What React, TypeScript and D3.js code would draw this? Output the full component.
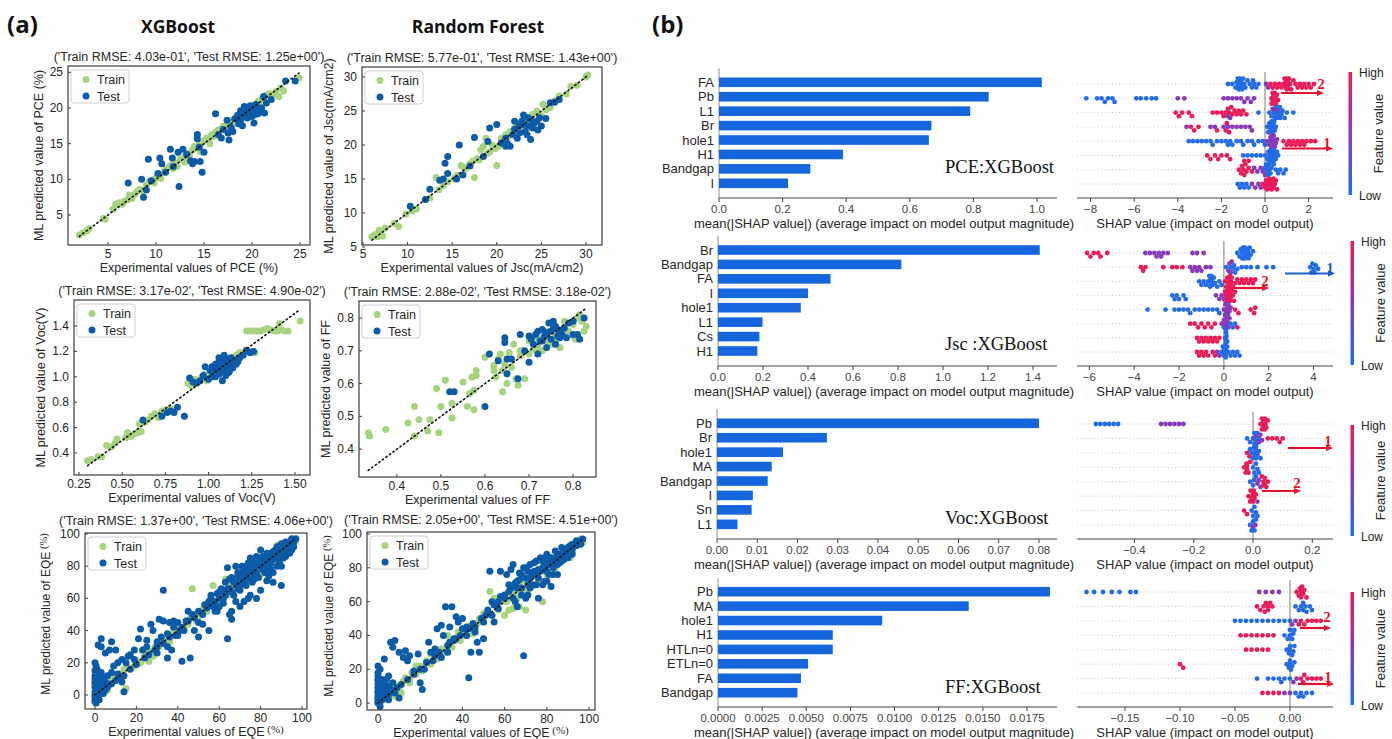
import React from "react";
import * as d3 from "d3";

const SANS = "'Liberation Sans', Arial, Helvetica, sans-serif";
const SERIF = "'Liberation Serif', 'Times New Roman', serif";
const HEAD = "'Open Sans', 'Liberation Sans', Arial, sans-serif";
const TEXT = "#262626";
const TRAIN_COLOR = "#a6d37e";
const TEST_COLOR = "#0c5ba9";
const BAR_COLOR = "#1565dc";

type Pt = [number, number];

// ---------- (a) parity data: [experimental, predicted] ----------
const pceTrain: Pt[] = [
  [2.0, 2.2], [2.4, 2.5], [2.8, 2.8], [3.0, 3.1], [4.5, 4.5], [4.7, 4.4], [5.5, 5.8], [5.8, 6.5], [6.0, 6.6], [6.2, 6.7],
  [6.5, 6.5], [6.7, 6.9], [7.0, 7.1], [7.2, 7.8], [7.5, 7.3], [7.8, 7.9], [8.0, 8.3], [8.3, 8.6], [8.6, 8.4], [9.0, 9.2],
  [9.3, 9.7], [9.6, 9.9], [10.0, 10.2], [10.3, 10.5], [10.5, 10.1], [10.8, 11.0], [11.0, 11.4], [11.3, 11.7], [11.6, 12.0], [12.0, 12.3],
  [12.5, 12.8], [13.0, 13.2], [13.3, 13.6], [13.5, 13.4], [13.8, 14.1], [14.0, 14.6], [14.2, 14.4], [14.5, 14.9], [14.8, 15.1], [15.0, 15.4],
  [15.3, 15.8], [15.5, 15.5], [15.8, 16.3], [16.0, 16.0], [16.2, 16.6], [16.5, 16.9], [16.8, 17.1], [17.0, 17.4], [17.3, 17.5], [17.6, 17.9],
  [17.9, 18.2], [18.2, 18.4], [18.5, 18.9], [18.8, 19.1], [19.1, 19.4], [19.4, 19.7], [19.7, 20.0], [20.0, 20.3], [20.3, 20.5], [20.6, 20.9],
  [20.9, 21.1], [21.2, 21.4], [21.5, 21.8], [21.8, 22.0], [22.2, 21.9], [22.5, 22.3], [22.8, 21.6], [23.3, 22.4], [23.0, 22.8], [24.9, 24.2],
  [12.2, 11.8], [14.6, 13.9], [16.3, 16.1], [18.0, 17.6], [19.2, 19.0], [20.8, 20.3], [15.6, 15.0], [13.0, 12.4], [9.8, 9.5], [11.8, 11.5],
];
const pceTest: Pt[] = [
  [7.1, 9.5], [8.5, 10.0], [9.2, 12.8], [8.7, 7.5], [9.0, 8.5], [9.5, 9.8], [10.4, 13.0], [10.6, 12.2], [10.2, 10.8], [11.0, 11.0],
  [11.5, 14.2], [11.7, 13.0], [11.8, 11.8], [12.4, 9.0], [12.3, 13.8], [12.8, 14.2], [13.2, 13.5], [13.6, 12.6], [13.8, 12.2], [14.0, 12.5],
  [14.3, 15.7], [14.3, 16.3], [14.5, 14.5], [14.6, 12.5], [14.8, 11.0], [15.0, 13.8], [16.2, 19.2], [16.5, 16.3], [16.8, 15.8], [17.0, 17.0],
  [17.4, 18.3], [17.5, 16.5], [17.6, 15.5], [17.8, 17.3], [18.0, 16.7], [18.2, 18.5], [18.5, 19.0], [18.8, 19.6], [18.8, 18.2], [19.0, 18.8],
  [19.2, 20.2], [19.4, 19.5], [19.5, 18.6], [19.6, 19.0], [19.8, 20.3], [19.9, 19.3], [20.0, 18.8], [20.1, 19.8], [20.2, 17.9], [20.3, 19.1],
  [20.4, 20.5], [20.6, 19.2], [20.8, 19.4], [21.0, 20.0], [21.2, 21.6], [21.3, 19.3], [21.5, 20.7], [20.6, 20.0], [18.6, 17.8], [19.0, 17.5],
  [23.5, 23.8], [24.5, 23.8], [22.0, 21.2],
];

const jscTrain: Pt[] = [
  [6.0, 6.5], [6.3, 6.8], [6.6, 6.5], [6.8, 7.5], [7.0, 7.0], [7.2, 6.6], [7.5, 7.8], [8.5, 8.5], [9.0, 8.0], [9.8, 9.8],
  [10.5, 10.3], [11.0, 10.6], [12.0, 12.0], [12.5, 12.2], [13.2, 15.2], [13.5, 13.4], [14.0, 14.0], [14.5, 14.6], [15.2, 15.0], [15.5, 15.5],
  [16.0, 17.0], [16.5, 16.5], [17.0, 17.2], [17.5, 15.2], [17.8, 18.0], [18.2, 19.3], [18.5, 19.8], [18.8, 21.0], [19.0, 18.8], [19.5, 20.0],
  [19.8, 19.5], [20.0, 17.0], [20.2, 19.8], [20.5, 21.0], [21.0, 21.5], [21.5, 22.0], [22.0, 22.5], [22.5, 23.0], [23.0, 23.5], [23.5, 24.0],
  [24.0, 24.5], [24.5, 25.0], [25.0, 24.3], [25.5, 25.2], [26.0, 25.5], [25.2, 26.0], [26.5, 26.5], [27.0, 27.2], [27.8, 27.5], [28.3, 28.6],
  [29.0, 28.8], [30.0, 30.0], [30.2, 30.3], [24.2, 23.5], [23.2, 22.6], [22.2, 21.8], [21.2, 21.0], [20.8, 20.5], [19.2, 19.0], [17.3, 17.6],
  [16.2, 16.8], [18.0, 17.8],
];
const jscTest: Pt[] = [
  [10.3, 11.0], [12.0, 12.0], [12.5, 13.5], [13.6, 14.8], [14.0, 15.0], [14.5, 15.8], [14.2, 17.3], [14.5, 18.3], [15.5, 15.0], [15.8, 20.0],
  [16.2, 15.6], [17.0, 16.9], [17.5, 21.1], [18.5, 18.3], [19.0, 20.5], [19.2, 22.5], [20.0, 23.0], [20.5, 20.3], [21.0, 19.8], [21.2, 20.2],
  [21.5, 19.8], [21.0, 21.0], [21.8, 21.5], [22.0, 22.3], [22.3, 21.0], [22.5, 22.8], [22.8, 23.5], [23.0, 24.4], [23.2, 22.0], [23.4, 21.5],
  [23.6, 22.8], [23.8, 23.8], [24.0, 22.5], [24.2, 23.2], [24.5, 23.5], [24.6, 22.2], [24.8, 24.0], [25.0, 22.8], [23.0, 23.0], [22.6, 21.8],
  [23.5, 24.0], [25.5, 23.9], [26.0, 26.2], [26.5, 26.3], [27.0, 26.7], [23.8, 20.8], [22.0, 23.5],
];

const vocTrain: Pt[] = [
  [0.30, 0.34], [0.32, 0.35], [0.36, 0.37], [0.38, 0.37], [0.41, 0.46], [0.44, 0.45], [0.46, 0.48], [0.47, 0.51], [0.52, 0.52], [0.53, 0.56],
  [0.55, 0.53], [0.57, 0.55], [0.59, 0.56], [0.60, 0.63], [0.61, 0.57], [0.63, 0.64], [0.65, 0.66], [0.67, 0.69], [0.69, 0.71], [0.71, 0.68],
  [0.73, 0.73], [0.75, 0.74], [0.78, 0.75], [0.88, 0.95], [0.90, 0.93], [0.92, 0.98], [0.94, 0.96], [0.96, 1.00], [0.98, 1.02], [1.00, 1.03],
  [1.02, 1.01], [1.04, 1.06], [1.06, 1.08], [1.08, 1.10], [1.10, 1.12], [1.12, 1.13], [1.14, 1.15], [1.16, 1.17], [1.18, 1.19], [1.20, 1.19],
  [1.22, 1.21], [1.25, 1.20], [1.27, 1.19], [1.22, 1.36], [1.24, 1.36], [1.26, 1.36], [1.28, 1.36], [1.30, 1.36], [1.32, 1.37], [1.34, 1.38],
  [1.36, 1.37], [1.38, 1.36], [1.40, 1.36], [1.42, 1.37], [1.44, 1.36], [1.46, 1.36], [1.41, 1.42], [1.53, 1.44], [1.05, 1.02], [1.12, 1.08],
  [0.99, 0.97], [1.15, 1.12],
];
const vocTest: Pt[] = [
  [0.62, 0.66], [0.73, 0.69], [0.76, 0.72], [0.78, 0.73], [0.80, 0.72], [0.82, 0.76], [0.86, 0.69], [0.89, 0.99], [0.91, 0.96], [0.93, 0.95],
  [0.95, 0.97], [0.98, 1.08], [1.00, 0.98], [1.01, 1.05], [1.02, 1.08], [1.03, 1.03], [1.04, 1.10], [1.05, 1.06], [1.06, 1.15], [1.06, 1.02],
  [1.07, 1.04], [1.08, 1.09], [1.08, 0.97], [1.09, 1.12], [1.10, 1.06], [1.10, 1.01], [1.11, 1.14], [1.12, 1.09], [1.12, 1.04], [1.13, 1.11],
  [1.14, 1.07], [1.15, 1.13], [1.16, 1.10], [1.17, 1.12], [1.18, 1.15], [1.20, 1.17], [1.22, 1.21], [1.24, 1.19], [1.26, 1.20], [1.06, 1.12],
  [1.04, 1.00], [1.09, 1.17], [1.13, 1.15], [1.07, 1.08], [1.11, 1.03], [1.02, 1.00], [0.97, 1.01],
];

const ffTrain: Pt[] = [
  [0.335, 0.45], [0.338, 0.44], [0.375, 0.46], [0.425, 0.48], [0.44, 0.53], [0.44, 0.44], [0.45, 0.49], [0.47, 0.455], [0.475, 0.49], [0.49, 0.585],
  [0.495, 0.45], [0.50, 0.53], [0.51, 0.61], [0.525, 0.54], [0.525, 0.495], [0.55, 0.605], [0.56, 0.53], [0.565, 0.57], [0.57, 0.62], [0.575, 0.52],
  [0.575, 0.58], [0.58, 0.64], [0.58, 0.625], [0.60, 0.68], [0.62, 0.655], [0.62, 0.64], [0.625, 0.62], [0.63, 0.675], [0.635, 0.69], [0.64, 0.575],
  [0.64, 0.64], [0.65, 0.60], [0.655, 0.695], [0.66, 0.65], [0.665, 0.72], [0.67, 0.615], [0.675, 0.595], [0.68, 0.685], [0.685, 0.70], [0.69, 0.615],
  [0.70, 0.73], [0.71, 0.705], [0.72, 0.74], [0.73, 0.70], [0.74, 0.76], [0.75, 0.72], [0.76, 0.745], [0.77, 0.71], [0.78, 0.79], [0.79, 0.76],
  [0.80, 0.78], [0.81, 0.80], [0.82, 0.79], [0.83, 0.775], [0.825, 0.76], [0.80, 0.745], [0.76, 0.73], [0.72, 0.71], [0.70, 0.69], [0.74, 0.73],
  [0.78, 0.765], [0.815, 0.81], [0.805, 0.735], [0.68, 0.70], [0.645, 0.66],
];
const ffTest: Pt[] = [
  [0.52, 0.575], [0.53, 0.575], [0.60, 0.53], [0.61, 0.69], [0.63, 0.67], [0.645, 0.74], [0.645, 0.725], [0.65, 0.675], [0.65, 0.63], [0.66, 0.675],
  [0.675, 0.615], [0.68, 0.75], [0.69, 0.70], [0.70, 0.745], [0.70, 0.665], [0.71, 0.72], [0.715, 0.75], [0.72, 0.69], [0.72, 0.76], [0.725, 0.73],
  [0.73, 0.765], [0.735, 0.745], [0.74, 0.71], [0.74, 0.755], [0.745, 0.785], [0.75, 0.76], [0.75, 0.735], [0.755, 0.77], [0.76, 0.72], [0.76, 0.775],
  [0.765, 0.745], [0.77, 0.76], [0.775, 0.75], [0.78, 0.77], [0.785, 0.74], [0.79, 0.785], [0.80, 0.75], [0.80, 0.79], [0.81, 0.75], [0.815, 0.735],
  [0.825, 0.80], [0.73, 0.73], [0.755, 0.79], [0.77, 0.74], [0.705, 0.735], [0.765, 0.765],
];

const eqeXgbTrain: Pt[] = [
  [1, 0], [2, 2], [3, 4], [4, 1], [5, 5], [6, 7], [7, 6], [8, 9], [10, 11], [12, 11], [13, 14], [15, 4], [14, 16], [16, 17], [18, 17],
  [20, 21], [22, 20], [24, 25], [26, 21], [27, 27], [29, 30], [31, 30], [33, 34], [35, 34], [37, 38], [39, 38], [41, 41], [43, 42], [45, 44],
  [46, 48], [47, 66], [48, 50], [50, 49], [52, 53], [54, 52], [56, 58], [57, 68], [58, 57], [60, 61], [61, 59], [62, 63], [63, 72], [64, 62],
  [65, 66], [66, 64], [67, 68], [68, 66], [70, 71], [72, 70], [74, 75], [75, 73], [77, 78], [79, 77], [81, 82], [83, 81], [85, 86], [87, 85],
  [89, 90], [91, 89], [93, 94], [95, 93], [97, 96], [91, 90], [85, 80], [88, 93], [80, 75], [76, 79], [71, 74], [66, 69], [59, 56], [53, 55],
  [44, 45], [34, 33], [25, 27], [19, 18], [11, 10], [9, 12], [3, 8], [6, 3], [28, 24], [36, 33], [49, 46], [55, 55],
];
const eqeXgbTest: Pt[] = [
  [0, 20], [1.5, 31], [3, 35], [3, 30], [5, 26], [7, 28], [8, 33], [10, 28], [11, 13], [13, 8], [14, 2], [16, 24], [19, 28], [21, 35],
  [22, 41], [23, 28], [25, 34], [27, 44], [28, 40], [30, 33], [31, 47], [33, 46], [33, 65], [35, 23], [36, 45], [37, 28], [38, 46], [40, 45],
  [42, 21], [43, 40], [46, 23], [48, 40], [50, 36], [52, 44], [55, 40], [56, 60], [58, 58], [59, 52], [62, 65], [64, 35], [65, 50], [66, 47],
  [66, 52], [68, 58], [70, 55], [72, 58], [74, 60], [75, 62], [78, 60], [80, 65], [84, 74], [88, 80], [90, 68], [83, 71], [86, 70], [70, 72],
  [68, 80], [64, 79], [71, 80], [76, 83], [80, 90], [82, 86], [85, 88], [88, 92], [90, 94], [92, 95], [95, 97], [94, 88], [96, 92], [93, 90],
  [87, 86], [89, 83], [91, 85], [78, 76], [75, 78], [73, 75], [72, 70], [76, 70], [79, 73], [81, 78], [84, 81], [86, 84], [77, 80], [74, 82],
  [69, 74], [67, 70], [65, 66], [63, 62], [60, 60], [57, 55], [54, 54], [52, 50], [48, 48], [45, 46], [42, 42], [39, 37], [36, 36], [33, 32],
  [30, 30], [26, 25], [24, 23], [20, 19], [17, 16], [14, 12], [12, 10], [10, 9], [8, 7], [6, 5], [5, 3], [4, 6], [3, 2], [2, 4], [1, 1],
  [0, 0], [0, -3], [0.5, -5], [0, 5], [0, 8], [0, 12], [0, 15], [0.5, 10], [1, 13], [1.5, 7], [2, 9], [2.5, 12], [3, 5], [4, 10], [0, 2],
  [1, -2], [0, -1], [2, 0], [6, 12], [8, 14], [9, 18], [11, 20], [13, 22], [15, 20], [17, 25], [19, 22], [25, 30], [29, 28], [32, 36],
  [35, 38], [38, 42], [41, 40], [44, 46], [47, 50], [50, 52], [53, 56], [56, 62], [59, 63], [61, 66], [63, 70], [66, 73], [69, 76], [72, 78],
  [75, 85], [78, 86], [81, 84], [83, 88], [85, 82], [87, 90], [89, 88], [91, 90], [93, 93], [95, 94], [97, 97], [92, 86], [90, 80], [86, 76],
  [82, 76], [80, 80], [77, 74], [73, 68], [70, 65], [67, 62], [62, 57], [60, 55], [50, 45], [45, 52], [40, 37], [35, 30], [30, 26],
  [79, 83], [82, 80], [84, 86], [86, 89], [88, 86], [90, 88], [92, 92], [94, 95], [71, 76], [73, 72], [76, 76], [78, 81],
  [62, 60], [64, 66], [66, 64], [68, 70], [70, 68], [72, 74], [74, 72], [76, 78], [78, 74], [80, 82], [82, 78], [84, 84], [86, 86], [88, 88],
  [90, 90], [92, 93], [94, 92], [96, 95], [65, 72], [69, 66], [73, 80], [77, 72], [81, 86], [85, 78], [89, 92], [93, 88], [95, 90], [60, 64],
  [58, 52], [55, 58], [0, -4], [0, 7], [0, 10], [1, 3], [1, 16], [2, -3], [0.5, 18], [3, 14], [4, 1], [5, 8],
];

const eqeRfTrain: Pt[] = [
  [0, 2], [2, 3], [4, 5], [5, 3], [7, 8], [9, 10], [10, 8], [12, 13], [13, 15], [15, 14], [16, 18], [18, 17], [20, 22], [21, 19], [23, 25],
  [25, 23], [27, 28], [28, 26], [30, 32], [32, 30], [34, 36], [35, 33], [37, 38], [39, 37], [40, 42], [42, 40], [44, 46], [46, 44], [48, 50],
  [50, 48], [52, 54], [54, 52], [56, 58], [57, 55], [59, 61], [60, 52], [61, 60], [62, 55], [63, 63], [64, 56], [65, 66], [66, 62], [67, 70],
  [68, 66], [70, 72], [71, 67], [72, 74], [73, 69], [75, 77], [76, 73], [78, 80], [80, 76], [82, 84], [84, 80], [86, 88], [88, 85], [90, 92],
  [92, 89], [94, 95], [96, 97], [97, 95], [60, 62], [70, 55], [78, 60], [91, 86], [86, 84], [15, 12], [11, 6], [45, 41], [55, 62], [50, 53],
  [38, 42], [25, 29], [8, 4], [3, 6], [1, 0], [18, 22], [30, 28], [47, 47], [33, 40], [53, 66], [67, 57],
];
const eqeRfTest: Pt[] = [
  [0, 22], [0, 18], [0, 14], [1, 12], [2, 10], [3, 26], [5, 16], [6, 36], [7, 33], [8, 37], [10, 3], [10, 30], [12, 27], [13, 31],
  [14, 25], [15, 28], [17, 19], [19, 29], [20, 12], [21, 8], [22, 20], [24, 36], [25, 30], [27, 32], [28, 44], [30, 46], [31, 40], [32, 57],
  [33, 30], [34, 45], [35, 57], [36, 38], [37, 51], [38, 48], [40, 50], [41, 44], [42, 40], [43, 15], [44, 30], [46, 42], [47, 36], [48, 30],
  [50, 38], [51, 52], [53, 78], [54, 60], [55, 48], [57, 60], [58, 78], [60, 62], [61, 76], [63, 79], [64, 82], [65, 60], [66, 57], [67, 77],
  [68, 68], [69, 28], [70, 62], [71, 64], [72, 74], [73, 70], [74, 83], [75, 78], [76, 62], [77, 86], [78, 84], [79, 72], [80, 88], [81, 76],
  [82, 86], [83, 80], [84, 90], [85, 82], [86, 88], [87, 92], [88, 85], [89, 90], [90, 86], [91, 93], [92, 91], [93, 94], [95, 95], [96, 96],
  [75, 84], [72, 82], [70, 80], [68, 76], [66, 72], [63, 68], [60, 64], [58, 63], [55, 58], [52, 55], [49, 50], [45, 47], [42, 45], [39, 40],
  [36, 37], [33, 34], [29, 30], [26, 25], [23, 24], [20, 20], [17, 17], [14, 14], [11, 11], [9, 9], [7, 7], [5, 5], [4, 8], [3, 3],
  [2, 5], [1, 1], [0, 0], [0, 3], [0, 6], [0, 9], [1, -2], [2, 2], [3, 12], [4, 4], [1, 8], [0, 11], [2, 14], [5, 10], [7, 12], [8, 6],
  [69, 80], [76, 79], [79, 82], [81, 82], [84, 85], [86, 83], [88, 89], [90, 92], [92, 88], [94, 93], [97, 97], [78, 70], [80, 72], [85, 76],
  [82, 69], [71, 70], [73, 76], [65, 71], [62, 70], [57, 56], [54, 52], [50, 48], [46, 45], [43, 44], [40, 44], [37, 38], [34, 36], [30, 27],
  [27, 28], [83, 84], [85, 87], [87, 86], [89, 87], [91, 90], [77, 78], [74, 76], [80, 84],
  [62, 66], [64, 62], [66, 68], [68, 64], [70, 74], [72, 68], [74, 78], [76, 74], [78, 80], [80, 78], [82, 82], [84, 86], [86, 86], [88, 90],
  [90, 89], [92, 94], [94, 96], [96, 94], [67, 73], [71, 78], [75, 70], [79, 86], [83, 76], [87, 84], [91, 88], [0, 1], [0, 4], [0, 7],
  [0, 13], [0, 16], [1, 5], [1, 10], [2, 7], [3, 9], [4, 14], [5, 2], [6, 8], [1, 20],
];

const pceRmse = ["4.03e-01", "1.25e+00"];
const jscRmse = ["5.77e-01", "1.43e+00"];
const vocRmse = ["3.17e-02", "4.90e-02"];
const ffRmse = ["2.88e-02", "3.18e-02"];
const eqeXgbRmse = ["1.37e+00", "4.06e+00"];
const eqeRfRmse = ["2.05e+00", "4.51e+00"];

const pceTicks = [5, 10, 15, 20, 25];
const jscTicks = [5, 10, 15, 20, 25, 30];
const vocXTicks = [0.25, 0.5, 0.75, 1.0, 1.25, 1.5];
const vocYTicks = [0.4, 0.6, 0.8, 1.0, 1.2, 1.4];
const ffTicks = [0.4, 0.5, 0.6, 0.7, 0.8];
const eqeTicks = [0, 20, 40, 60, 80, 100];

// ---------- (b) SHAP importance ----------
const pceFeatures = ["FA", "Pb", "L1", "Br", "hole1", "H1", "Bandgap", "I"];
const pceImportance = [1.015, 0.848, 0.79, 0.668, 0.66, 0.39, 0.287, 0.217];
const jscFeatures = ["Br", "Bandgap", "FA", "I", "hole1", "L1", "Cs", "H1"];
const jscImportance = [1.43, 0.815, 0.5, 0.4, 0.368, 0.198, 0.184, 0.175];
const vocFeatures = ["Pb", "Br", "hole1", "MA", "Bandgap", "I", "Sn", "L1"];
const vocImportance = [0.08, 0.0273, 0.0164, 0.0136, 0.0126, 0.0089, 0.0086, 0.0051];
const ffFeatures = ["Pb", "MA", "hole1", "H1", "HTLn=0", "ETLn=0", "FA", "Bandgap"];
const ffImportance = [0.0188, 0.0142, 0.0093, 0.0065, 0.0065, 0.0051, 0.0047, 0.0045];

const pceBarTicks = [0, 0.2, 0.4, 0.6, 0.8, 1.0];
const jscBarTicks = [0, 0.2, 0.4, 0.6, 0.8, 1.0, 1.2, 1.4];
const vocBarTicks = [0, 0.01, 0.02, 0.03, 0.04, 0.05, 0.06, 0.07, 0.08];
const ffBarTicks = [0, 0.0025, 0.005, 0.0075, 0.01, 0.0125, 0.015, 0.0175];

// SHAP values per feature row, split by feature value (low / mid / high)
const pceShapLow = [
  [-1.7, -1.5, -1.35, -1.3, -1.25, -1.2, -1.2, -1.15, -1.1, -1.1, -1.05, -1.0, -0.95, -0.9, -0.8, -0.7, -0.6, -0.55, -0.5, -0.4, -0.3, -1.25, -1.18, -1.12],
  [-8.2, -7.7, -7.5, -7.35, -7.2, -7.0, -6.9, -5.9, -5.7, -5.45, -5.2, -5.0],
  [-0.3, 0.2, 0.3, 0.4, 0.45, 0.5, 0.55, 0.6, 0.6, 0.65, 0.7, 0.75, 0.8, 0.9, 1.0, 1.3, 0.5, 0.55, 0.62, 0.68],
  [0.1, 0.15, 0.2, 0.25, 0.3, 0.3, 0.35, 0.35, 0.4, 0.45, 0.5, 0.25, 0.32, 0.38, 0.28, 0.42],
  [-3.5, -3.3, -3.1, -2.9, -2.7, -2.5, -2.4, -2.2, -2.0, -1.8, -1.7, -1.6, -1.5, -1.3, -1.1, -1.0, -0.8, -0.6, -0.5, -0.3, -0.1, 0.0],
  [-1.0, -0.8, -0.6, -0.4, -0.2, 0.0, 0.1, 0.15, 0.2, 0.25, 0.3, 0.3, 0.35, 0.35, 0.4, 0.45, 0.5, 0.55, 0.6, 0.2, 0.28, 0.38, 0.42, 0.25],
  [0.0, 0.1, 0.15, 0.2, 0.25, 0.3, 0.4, 0.5, 0.6, 0.7, 0.85, 0.95, 0.1, 0.2, 0.05],
  [-1.25, -1.15, -1.05, -0.95, -0.85, -0.75],
];
const pceShapMid = [
  [0.05, 0.15],
  [-4.0, -3.7, -1.9, -1.7, -1.5, -1.3, -1.1, -0.95, -0.8, -0.65, -0.5],
  [0.35, 0.5, 0.6, -1.6, -1.7],
  [-3.6, -2.5, -2.3, -1.9, -1.7, -1.5, -1.3, -1.1, -0.9, -0.7, -0.6],
  [0.1, 0.2, 0.25, 0.3, 0.3, 0.35, 0.35, 0.4, 0.45, 0.5, 0.55, 0.28, 0.38, 0.32],
  [],
  [-0.5, -0.35, -0.2, -0.1, 0.0],
  [-0.6, -0.45, -0.3, -0.2],
];
const pceShapHigh = [
  [0.25, 0.35, 0.45, 0.55, 0.65, 0.75, 0.85, 0.9, 0.95, 1.0, 1.0, 1.0, 1.05, 1.05, 1.1, 1.15, 1.2, 1.3, 1.4, 1.5, 1.6, 1.7, 1.8, 1.9, 2.0, 2.1, 2.25, 0.95, 0.98, 1.02],
  [0.3, 0.35, 0.4, 0.4, 0.45, 0.45, 0.5, 0.35, 0.42, 0.5, 0.55, 0.38, 0.48, 0.6, 0.3, 0.44],
  [-4.1, -3.95, -3.8, -3.5, -3.35, -2.4, -2.2, -2.0, -1.9, -1.8, -1.7, -1.65, -1.55, -1.5, -1.4, -1.3, -1.2, -1.1, -1.0, -0.85],
  [-3.4, -3.25, -3.05, -2.2, -1.8, -1.75, -1.65],
  [0.85, 1.0, 1.1, 1.2, 1.3, 1.4, 1.5, 1.6, 1.7, 1.8, 1.9, 2.1, 2.3],
  [-2.65, -2.5, -2.3, -2.15, -2.0, -1.75, -1.6, -0.95, -0.75],
  [-1.2, -1.1, -1.0, -0.9, -0.85, -0.75, -0.6, -1.05, -0.95],
  [-0.1, 0.0, 0.05, 0.1, 0.15, 0.2, 0.2, 0.25, 0.3, 0.35, 0.4, 0.45, 0.5, 0.55, 0.1, 0.18, 0.28, 0.05, 0.38],
];

const jscShapLow = [
  [0.6, 0.7, 0.75, 0.8, 0.85, 0.9, 0.9, 0.95, 1.0, 1.0, 1.05, 1.1, 1.15, 1.2, 1.3, 0.82, 0.92, 0.98, 1.08],
  [0.1, 0.4, 0.5, 0.6, 0.8, 1.0, 1.2, 1.5, 1.9, 2.2, 3.85, 3.9, 3.95, 4.0, 4.05, 4.1, 4.2, 0.3, 0.45],
  [-1.1, -1.0, -0.9, -0.8, -0.7, -0.65, -0.6, -0.6, -0.55, -0.5, -0.45, -0.4, -0.3, -0.2, -0.1, -0.62, -0.52],
  [-2.3, -2.2, -2.1, -2.0, -1.8, -1.7],
  [-3.4, -2.6, -2.2, -2.0, -1.8, -1.6, -1.5, -1.3, -1.1, -0.9, -0.7, -0.5, -0.3, -0.2],
  [0.3, 0.4, 0.5, 0.0, 0.1],
  [0.05, 0.1, 0.1, 0.15, 0.08, 0.12],
  [-0.1, 0.0, 0.0, 0.05, 0.1, 0.1, 0.15, 0.2, 0.3, 0.4, 0.5, 0.6, 0.7, -0.05, 0.08, 0.02],
];
const jscShapMid = [
  [-3.5, -3.3, -3.1, -3.0, -2.9, -2.8, -2.7, -2.5, -1.4, -1.2, -0.9],
  [-1.5, -1.4, -1.3, -1.2, -1.1, -1.0, -0.8, -0.6, 0.2, 0.25, 0.3, 0.35],
  [],
  [-0.35, -0.2, -0.1, 0.0],
  [0.0, 0.05, 0.1, 0.15, 0.2, 0.25, 0.3, 0.08, 0.18],
  [-0.1, 0.0, 0.05, 0.1, 0.15, 0.2, 0.25, 0.12],
  [],
  [-0.3, -0.2],
];
const jscShapHigh = [
  [-6.1, -5.95, -5.8, -5.6, -5.5, -5.2],
  [-3.7, -3.6, -3.5, -2.7, -2.3, -2.1, -1.85],
  [0.05, 0.1, 0.15, 0.2, 0.25, 0.3, 0.35, 0.4, 0.5, 0.6, 0.7, 0.8, 0.9, 1.0, 1.1, 1.2, 1.3, 1.4, 0.22, 0.32, 0.28],
  [0.05, 0.1, 0.15, 0.2, 0.2, 0.25, 0.3, 0.3, 0.35, 0.4, 0.45, 0.5, 0.12, 0.18, 0.28, 0.22],
  [0.5, 0.65, 1.2, 1.35, 1.4],
  [-1.5, -1.3, -1.15, -1.0, -0.85, -0.7, -0.55, -0.4, 0.6],
  [-1.2, -1.1, -1.0, -0.9, -0.8, -0.7, -0.6, -0.5, -0.4, -0.3, -0.2],
  [-1.2, -1.1, -1.0, -0.9, -0.8, -0.7, -0.5, -0.4],
];

const vocShapLow = [
  [-0.53, -0.515, -0.5, -0.485, -0.47, -0.455],
  [-0.02, -0.01, 0.0, 0.005, 0.01, 0.015, 0.02, 0.005, 0.012],
  [-0.01, -0.005, 0.0, 0.005, 0.01, 0.01, 0.015, 0.02, 0.025, 0.008, 0.003],
  [0.0, 0.005, 0.01, 0.015, 0.02],
  [-0.01, 0.0, 0.005, 0.01],
  [],
  [-0.005, 0.0, 0.005, 0.01, 0.015],
  [-0.01, -0.005, 0.0, 0.005, 0.01],
];
const vocShapMid = [
  [-0.31, -0.295, -0.28, -0.265, -0.25, -0.235],
  [0.01, 0.02, 0.025, 0.03],
  [],
  [],
  [0.015, 0.02, 0.025],
  [0.015],
  [],
  [0.0, 0.008],
];
const vocShapHigh = [
  [0.025, 0.03, 0.035, 0.04, 0.04, 0.045, 0.05, 0.035, 0.042, 0.03],
  [0.05, 0.065, 0.08, 0.09, 0.1],
  [-0.02, -0.012],
  [-0.03, -0.025, -0.02, -0.02, -0.015, -0.01, -0.022],
  [0.03, 0.035, 0.04, 0.045, 0.05, 0.04, 0.035],
  [-0.015, -0.01, -0.005, 0.0, 0.0, 0.005, 0.01, -0.008, 0.003],
  [-0.03, -0.02],
  [],
];

const ffShapLow = [
  [-0.185, -0.178, -0.17, -0.162, -0.155, -0.145, -0.14],
  [0.005, 0.008, 0.01, 0.012, 0.015, 0.018, 0.02, 0.012, 0.014],
  [-0.05, -0.045, -0.04, -0.035, -0.03, -0.025, -0.02, -0.015, -0.01, -0.005, 0.0],
  [-0.005, -0.002, 0.0, 0.002, 0.004, 0.0, 0.003],
  [-0.003, 0.0, 0.0, 0.002, 0.004, -0.001, 0.003],
  [-0.003, -0.001, 0.0, 0.001, 0.002, 0.004, 0.0],
  [-0.03, -0.02, -0.015, -0.01, -0.005, 0.0, -0.008],
  [0.005, 0.01, 0.015, 0.02, 0.008, 0.012],
];
const ffShapMid = [
  [-0.028, -0.022, -0.016, -0.01],
  [],
  [0.002, 0.005],
  [],
  [],
  [],
  [0.003, 0.006],
  [-0.005, 0.0],
];
const ffShapHigh = [
  [0.006, 0.008, 0.01, 0.01, 0.012, 0.013, 0.015, 0.009, 0.011],
  [-0.03, -0.027, -0.024, -0.022, -0.02, -0.018, -0.016, -0.023, -0.02],
  [0.008, 0.01, 0.013, 0.016, 0.02, 0.024, 0.028],
  [-0.045, -0.04, -0.035, -0.03, -0.025, -0.02, -0.015],
  [-0.04, -0.035, -0.03, -0.025, -0.02],
  [-0.1, -0.097],
  [0.01, 0.013, 0.016, 0.02, 0.024, 0.028, 0.012],
  [-0.025, -0.02, -0.015, -0.01],
];

const pceShapTicks = [-8, -6, -4, -2, 0, 2];
const jscShapTicks = [-6, -4, -2, 0, 2, 4];
const vocShapTicks = [-0.4, -0.2, 0.0, 0.2];
const ffShapTicks = [-0.15, -0.1, -0.05, 0.0];

// ---------- layout ----------
type Frame = { l: number; r: number; t: number; b: number };
type ScatterCfg = {
  train: Pt[]; test: Pt[]; rmse: string[]; xTicks: number[]; yTicks: number[];
  fx: (v: number) => string; fy: (v: number) => string; xLabel: string; yLabel: string;
  pct?: boolean; line: [number, number]; frame: Frame; xDom: [number, number]; yDom: [number, number];
  yLabelX: number; yLabelY?: number; titleGap?: number;
};

const fInt = d3.format("d");
const f1 = d3.format(".1f");
const f2 = d3.format(".2f");

const scatterCfgs: ScatterCfg[] = [
  { train: pceTrain, test: pceTest, rmse: pceRmse, xTicks: pceTicks, yTicks: pceTicks, fx: fInt, fy: fInt,
    xLabel: "Experimental values of PCE (%)", yLabel: "ML predicted value of PCE (%)", line: [2.0, 24.9],
    frame: { l: 68, r: 310, t: 66, b: 245 }, xDom: [0.83, 26.04], yDom: [0.79, 25.89], yLabelX: 43 },
  { train: jscTrain, test: jscTest, rmse: jscRmse, xTicks: jscTicks, yTicks: jscTicks, fx: fInt, fy: fInt,
    xLabel: "Experimental values of Jsc(mA/cm2)", yLabel: "ML predicted value of Jsc(mA/cm2)", line: [6.0, 30.3],
    frame: { l: 362, r: 602, t: 67, b: 245 }, xDom: [4.89, 31.8], yDom: [5.29, 31.47], yLabelX: 333 },
  { train: vocTrain, test: vocTest, rmse: vocRmse, xTicks: vocXTicks, yTicks: vocYTicks, fx: f2, fy: f1,
    xLabel: "Experimental values of Voc(V)", yLabel: "ML predicted value of Voc(V)", line: [0.3, 1.53],
    frame: { l: 74, r: 310, t: 300, b: 475 }, xDom: [0.221, 1.587], yDom: [0.227, 1.605], yLabelX: 45 },
  { train: ffTrain, test: ffTest, rmse: ffRmse, xTicks: ffTicks, yTicks: ffTicks, fx: f1, fy: f1,
    xLabel: "Experimental values of FF", yLabel: "ML predicted value of FF", line: [0.335, 0.83],
    frame: { l: 359, r: 596, t: 301, b: 477 }, xDom: [0.314, 0.852], yDom: [0.315, 0.852], yLabelX: 330 },
  { train: eqeXgbTrain, test: eqeXgbTest, rmse: eqeXgbRmse, xTicks: eqeTicks, yTicks: eqeTicks, fx: fInt, fy: fInt,
    xLabel: "Experimental values of EQE", yLabel: "ML predicted value of EQE", pct: true, line: [0, 97],
    frame: { l: 85, r: 307, t: 533, b: 709 }, xDom: [-4.83, 102.4], yDom: [-8.7, 100.6], yLabelX: 50,
    yLabelY: 614, titleGap: 8 },
  { train: eqeRfTrain, test: eqeRfTest, rmse: eqeRfRmse, xTicks: eqeTicks, yTicks: eqeTicks, fx: fInt, fy: fInt,
    xLabel: "Experimental values of EQE", yLabel: "ML predicted value of EQE", pct: true, line: [0, 97],
    frame: { l: 367, r: 595, t: 532, b: 710 }, xDom: [-5.2, 102.8], yDom: [-4.1, 101.2], yLabelX: 333,
    yLabelY: 616, titleGap: 8 },
];

function ScatterPanel({ c }: { c: ScatterCfg }) {
  const { frame: fr } = c;
  const x = d3.scaleLinear().domain(c.xDom).range([fr.l, fr.r]);
  const y = d3.scaleLinear().domain(c.yDom).range([fr.b, fr.t]);
  const cx = (fr.l + fr.r) / 2;
  const cy = c.yLabelY ?? (fr.t + fr.b) / 2;
  const r = 3.5;
  return (
    <g fontFamily={SANS} fill={TEXT}>
      <text x={cx} y={fr.t - (c.titleGap ?? 5)} textAnchor="middle" fontSize={12.5}>
        {`('Train RMSE: ${c.rmse[0]}', 'Test RMSE: ${c.rmse[1]}')`}
      </text>
      {c.train.map((d, i) => (
        <circle key={"tr" + i} cx={x(d[0])} cy={y(d[1])} r={r} fill={TRAIN_COLOR} />
      ))}
      {c.test.map((d, i) => (
        <circle key={"te" + i} cx={x(d[0])} cy={y(d[1])} r={r} fill={TEST_COLOR} />
      ))}
      <line x1={x(c.line[0])} y1={y(c.line[0])} x2={x(c.line[1])} y2={y(c.line[1])}
        stroke="#111" strokeWidth={1.6} strokeDasharray="1.4,3" strokeLinecap="round" />
      <rect x={fr.l} y={fr.t} width={fr.r - fr.l} height={fr.b - fr.t} fill="none" stroke="#3c3c3c" strokeWidth={1.2} />
      {/* legend */}
      <g>
        <rect x={fr.l + 3} y={fr.t + 4} width={58} height={33} rx={3} fill="#fff" fillOpacity={0.85} stroke="#d0d0d0" />
        <circle cx={fr.l + 18} cy={fr.t + 13.5} r={r} fill={TRAIN_COLOR} />
        <text x={fr.l + 29} y={fr.t + 18} fontSize={12.5}>Train</text>
        <circle cx={fr.l + 18} cy={fr.t + 30} r={r} fill={TEST_COLOR} />
        <text x={fr.l + 29} y={fr.t + 34.5} fontSize={12.5}>Test</text>
      </g>
      {c.xTicks.map((t) => (
        <g key={"xt" + t}>
          <line x1={x(t)} x2={x(t)} y1={fr.b} y2={fr.b - 3} stroke="#3c3c3c" />
          <text x={x(t)} y={fr.b + 13} textAnchor="middle" fontSize={12}>{c.fx(t)}</text>
        </g>
      ))}
      {c.yTicks.map((t) => (
        <g key={"yt" + t}>
          <line x1={fr.l} x2={fr.l + 3} y1={y(t)} y2={y(t)} stroke="#3c3c3c" />
          <text x={fr.l - 5} y={y(t) + 4} textAnchor="end" fontSize={12}>{c.fy(t)}</text>
        </g>
      ))}
      <text x={cx} y={fr.b + 27} textAnchor="middle" fontSize={12.5}>
        {c.xLabel}
        {c.pct ? <tspan fontFamily={SERIF} fontSize={11} dy={-3}> (%)</tspan> : null}
      </text>
      <text transform={`translate(${c.yLabelX},${cy}) rotate(-90)`} textAnchor="middle" fontSize={c.pct ? 12 : 12.5}>
        {c.yLabel}
        {c.pct ? <tspan fontFamily={SERIF} fontSize={10.5} dy={-3}> (%)</tspan> : null}
      </text>
    </g>
  );
}

// ---------- SHAP panels ----------
type ShapCfg = {
  features: string[]; importance: number[]; barTicks: number[]; barFmt: (v: number) => string;
  barX0: number; barRefV: number; barRefX: number; barRow0: number; axisY: number; name: string; nameY: number;
  low: number[][]; mid: number[][]; high: number[][]; swTicks: number[]; swFmt: (v: number) => string;
  swDom: [number, number]; swRow0: number; cbar: [number, number, number];
  notes: { label: string; color: string; tx: number; ty: number; x1: number; x2: number; ay: number }[];
};

const ROW_STEP = 14.43;

const shapCfgs: ShapCfg[] = [
  { features: pceFeatures, importance: pceImportance, barTicks: pceBarTicks, barFmt: f1,
    barX0: 719, barRefV: 1.0, barRefX: 1037, barRow0: 82.3, axisY: 198, name: "PCE:XGBoost", nameY: 173,
    low: pceShapLow, mid: pceShapMid, high: pceShapHigh, swTicks: pceShapTicks, swFmt: fInt,
    swDom: [-8.624, 3.119], swRow0: 84, cbar: [1350, 72, 195],
    notes: [
      { label: "2", color: "#e8102f", tx: 1321, ty: 89, x1: 1281, x2: 1324, ay: 93 },
      { label: "1", color: "#e8102f", tx: 1327, ty: 148, x1: 1282, x2: 1333, ay: 148.5 },
    ] },
  { features: jscFeatures, importance: jscImportance, barTicks: jscBarTicks, barFmt: f1,
    barX0: 718, barRefV: 1.4, barRefX: 1033, barRow0: 250, axisY: 366, name: "Jsc :XGBoost", nameY: 350,
    low: jscShapLow, mid: jscShapMid, high: jscShapHigh, swTicks: jscShapTicks, swFmt: fInt,
    swDom: [-6.549, 4.867], swRow0: 253, cbar: [1352, 241, 365],
    notes: [
      { label: "1", color: "#1d5fc4", tx: 1330, ty: 273, x1: 1285, x2: 1335, ay: 273.5 },
      { label: "2", color: "#e8102f", tx: 1265, ty: 286, x1: 1234, x2: 1269, ay: 288 },
    ] },
  { features: vocFeatures, importance: vocImportance, barTicks: vocBarTicks, barFmt: f2,
    barX0: 717, barRefV: 0.08, barRefX: 1039, barRow0: 423.3, axisY: 539, name: "Voc:XGBoost", nameY: 524,
    low: vocShapLow, mid: vocShapMid, high: vocShapHigh, swTicks: vocShapTicks, swFmt: f1,
    swDom: [-0.5936, 0.2698], swRow0: 424, cbar: [1352, 425, 536],
    notes: [
      { label: "1", color: "#e8102f", tx: 1328, ty: 446, x1: 1288, x2: 1333, ay: 448 },
      { label: "2", color: "#e8102f", tx: 1297, ty: 488, x1: 1262, x2: 1301, ay: 491 },
    ] },
  { features: ffFeatures, importance: ffImportance, barTicks: ffBarTicks, barFmt: d3.format(".4f"),
    barX0: 718, barRefV: 0.0175, barRefX: 1027, barRow0: 591.7, axisY: 707, name: "FF:XGBoost", nameY: 693,
    low: ffShapLow, mid: ffShapMid, high: ffShapHigh, swTicks: ffShapTicks, swFmt: f2,
    swDom: [-0.1936, 0.0391], swRow0: 592, cbar: [1352, 592, 705],
    notes: [
      { label: "2", color: "#e8102f", tx: 1327, ty: 622, x1: 1300, x2: 1331, ay: 628 },
      { label: "1", color: "#e8102f", tx: 1328, ty: 682, x1: 1298, x2: 1334, ay: 684 },
    ] },
];

const shapColor = d3.interpolateRgbBasis(["#1e6fe8", "#8a35c9", "#ef1a52"]);

type SwarmPt = { px: number; f: number; dy: number };

function swarm(points: { px: number; f: number }[], r: number, maxOff: number): SwarmPt[] {
  const placed: SwarmPt[] = [];
  const minD = r * 1.75;
  const step = r * 0.75;
  const nSteps = Math.floor(maxOff / step);
  const sorted = [...points].sort((a, b) => a.px - b.px);
  for (const p of sorted) {
    let chosen = 0;
    let best = -1;
    for (let k = 0; k <= 2 * nSteps; k++) {
      const off = (k % 2 === 1 ? 1 : -1) * Math.ceil(k / 2) * step;
      let md = Infinity;
      for (const q of placed) {
        if (Math.abs(q.px - p.px) < minD) {
          const dd = Math.hypot(q.px - p.px, q.dy - off);
          if (dd < md) md = dd;
        }
      }
      if (md >= minD) { chosen = off; break; }
      if (md > best) { best = md; chosen = off; }
    }
    placed.push({ px: p.px, f: p.f, dy: chosen });
  }
  return placed;
}

function ShapPanel({ c, idx }: { c: ShapCfg; idx: number }) {
  const bx = d3.scaleLinear().domain([0, c.barRefV]).range([c.barX0, c.barRefX]);
  const sx = d3.scaleLinear().domain(c.swDom).range([1077, 1333]);
  const rowY = (i: number) => c.barRow0 + i * ROW_STEP;
  const swY = (i: number) => c.swRow0 + i * ((c.axisY - 14 - c.swRow0) / 7);
  const gid = `cbar${idx}`;
  const [cbX, cbY0, cbY1] = c.cbar;
  const r = 2.4;
  return (
    <g fontFamily={SANS} fill={TEXT}>
      {/* bar summary */}
      <line x1={c.barX0} x2={c.barX0} y1={c.barRow0 - 14} y2={c.axisY} stroke="#9a9a9a" strokeWidth={1.1} />
      {c.importance.map((v, i) => (
        <rect key={"b" + i} x={c.barX0} y={rowY(i) - 4.8} width={bx(v) - c.barX0} height={9.6} fill={BAR_COLOR} />
      ))}
      {c.features.map((f, i) => (
        <text key={"f" + i} x={c.barX0 - 5} y={rowY(i) + 4.5} textAnchor="end" fontSize={13}>{f}</text>
      ))}
      <line x1={c.barX0} x2={1057} y1={c.axisY} y2={c.axisY} stroke="#444" strokeWidth={1.1} />
      {c.barTicks.map((t) => (
        <g key={"bt" + t}>
          <line x1={bx(t)} x2={bx(t)} y1={c.axisY} y2={c.axisY + 4} stroke="#444" />
          <text x={bx(t)} y={c.axisY + 15} textAnchor="middle" fontSize={11.5} fill="#444">{c.barFmt(t)}</text>
        </g>
      ))}
      <text x={884} y={c.axisY + 30} textAnchor="middle" fontSize={13}>
        mean(|SHAP value|) (average impact on model output magnitude)
      </text>
      <text x={945} y={c.nameY} fontFamily={SERIF} fontSize={18.5} fill="#111">{c.name}</text>

      {/* beeswarm */}
      {c.features.map((_, i) => (
        <line key={"g" + i} x1={1077} x2={1333} y1={swY(i)} y2={swY(i)} stroke="#c8c8c8" strokeWidth={1} strokeDasharray="1,2.5" />
      ))}
      <line x1={sx(0)} x2={sx(0)} y1={c.swRow0 - 12} y2={c.axisY} stroke="#999" strokeWidth={1.3} />
      {c.features.map((_, i) => {
        const pts = [
          ...c.low[i].map((v) => ({ px: sx(v), f: 0.03 })),
          ...c.mid[i].map((v) => ({ px: sx(v), f: 0.5 })),
          ...c.high[i].map((v) => ({ px: sx(v), f: 0.97 })),
        ];
        const laid = swarm(pts, r, 5.5);
        return (
          <g key={"s" + i}>
            {laid.map((p, j) => (
              <circle key={j} cx={p.px} cy={swY(i) + p.dy} r={r} fill={shapColor(p.f)} />
            ))}
          </g>
        );
      })}
      <line x1={1077} x2={1333} y1={c.axisY} y2={c.axisY} stroke="#444" strokeWidth={1.1} />
      {c.swTicks.map((t) => (
        <g key={"st" + t}>
          <line x1={sx(t)} x2={sx(t)} y1={c.axisY} y2={c.axisY + 4} stroke="#444" />
          <text x={sx(t)} y={c.axisY + 15} textAnchor="middle" fontSize={11.5} fill="#444">
            {c.swFmt(t).replace("-", "\u2212")}
          </text>
        </g>
      ))}
      <text x={1205} y={c.axisY + 30} textAnchor="middle" fontSize={13}>SHAP value (impact on model output)</text>

      {/* annotations */}
      {c.notes.map((n, i) => (
        <g key={"n" + i}>
          <line x1={n.x1} x2={n.x2 - 5} y1={n.ay} y2={n.ay} stroke={n.color} strokeWidth={2.2} />
          <path d={`M${n.x2},${n.ay} L${n.x2 - 7},${n.ay - 3} L${n.x2 - 7},${n.ay + 3} Z`} fill={n.color} />
          <text x={n.tx} y={n.ty} fontFamily={SERIF} fontWeight="bold" fontSize={15} fill={n.color} textAnchor="middle">{n.label}</text>
        </g>
      ))}

      {/* colour bar */}
      <defs>
        <linearGradient id={gid} x1="0" y1="1" x2="0" y2="0">
          {d3.range(0, 1.001, 0.1).map((t) => (
            <stop key={t} offset={t} stopColor={shapColor(t)} />
          ))}
        </linearGradient>
      </defs>
      <rect x={cbX - 1.5} y={cbY0} width={3.5} height={cbY1 - cbY0} fill={`url(#${gid})`} />
      <text x={cbX + 9} y={cbY0 + 5} fontSize={12}>High</text>
      <text x={cbX + 9} y={cbY1 + 5} fontSize={12}>Low</text>
      <text transform={`translate(${cbX + 33},${(cbY0 + cbY1) / 2}) rotate(-90)`} textAnchor="middle" fontSize={13}>Feature value</text>
    </g>
  );
}

export default function App() {
  return (
    <svg width={1392} height={739} viewBox="0 0 1392 739"
      style={{ position: "absolute", left: 0, top: 0, background: "#fff" }}>
      <rect width={1392} height={739} fill="#fff" />
      <text x={7} y={33} fontFamily={HEAD} fontWeight="bold" fontSize={24} fill="#111">(a)</text>
      <text x={178} y={33} textAnchor="middle" fontFamily={HEAD} fontWeight="bold" fontSize={17.5} fill="#111">XGBoost</text>
      <text x={478} y={33} textAnchor="middle" fontFamily={HEAD} fontWeight="bold" fontSize={17.5} fill="#111">Random Forest</text>
      <text x={652} y={33} fontFamily={HEAD} fontWeight="bold" fontSize={24} fill="#111">(b)</text>
      {scatterCfgs.map((c, i) => (
        <ScatterPanel key={i} c={c} />
      ))}
      {shapCfgs.map((c, i) => (
        <ShapPanel key={i} c={c} idx={i} />
      ))}
    </svg>
  );
}
